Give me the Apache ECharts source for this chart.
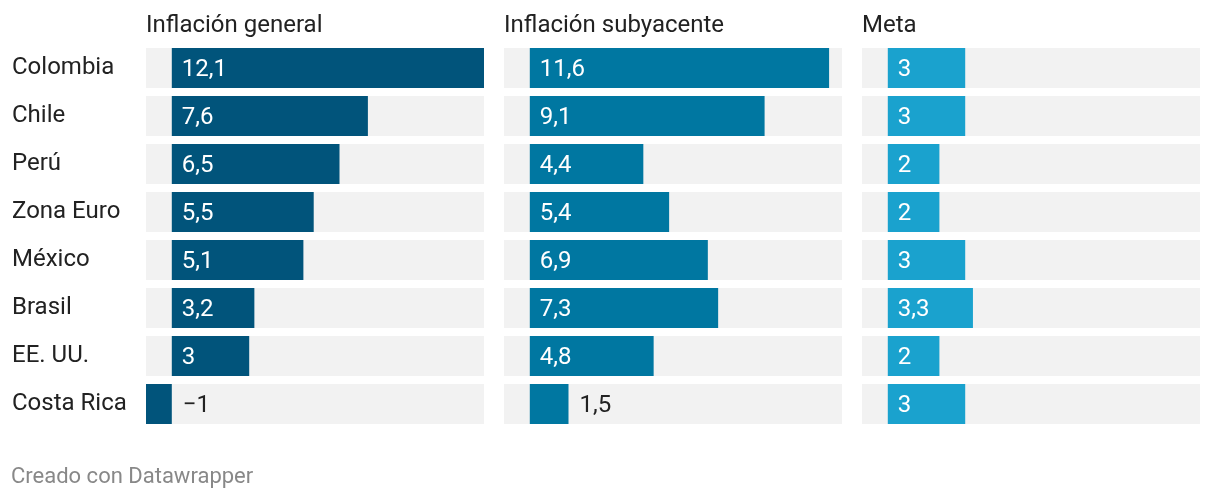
<!DOCTYPE html>
<html><head><meta charset="utf-8">
<script src="https://cdn.jsdelivr.net/npm/echarts@6/dist/echarts.min.js"></script>
<style>html,body{margin:0;padding:0;background:#fff}#c{width:1220px;height:500px}</style>
</head><body><div id="c"></div>
<script>
var categories = ['Colombia','Chile','Perú','Zona Euro','México','Brasil','EE. UU.','Costa Rica'];
var general = [12.1, 7.6, 6.5, 5.5, 5.1, 3.2, 3, -1];
var subyacente = [11.6, 9.1, 4.4, 5.4, 6.9, 7.3, 4.8, 1.5];
var meta = [3, 3, 2, 2, 3, 3.3, 2, 3];
var panelTitles = ['Inflación general', 'Inflación subyacente', 'Meta'];
var colors = ['#01547b', '#0077a1', '#1aa2ce'];
var FONT = 'Roboto';

var chart = echarts.init(document.getElementById('c'), null, {renderer:'canvas'});
var lefts = [146, 504, 862];
var W = 338;
function fmt(v){ return String(v).replace('.', ',').replace('-', '\u2212'); }
function makeData(arr){
  return arr.map(function(v){
    var outside = v < 2;
    return {value: v, label: outside ?
      {position: 'right', distance: 11, color: '#222'} :
      {position: 'insideLeft', distance: 10, color: '#fff'}};
  });
}
var grids = [], xAxes = [], yAxes = [], series = [], titles = [];
[general, subyacente, meta].forEach(function(arr, i){
  grids.push({left: lefts[i], width: W, top: 44, height: 384});
  xAxes.push({type:'value', gridIndex:i, min:-1, max:12.1, show:false});
  yAxes.push({type:'category', gridIndex:i, data:categories, inverse:true,
    axisLine:{show:false}, axisTick:{show:false}, splitLine:{show:false},
    axisLabel:{show: i===0, align:'left', margin: 134, padding:[4,0,0,0], fontFamily:FONT, fontSize:24, color:'#222'}});
  series.push({type:'bar', xAxisIndex:i, yAxisIndex:i, data:makeData(arr), barWidth:40,
    itemStyle:{color:colors[i]}, showBackground:true, backgroundStyle:{color:'#f2f2f2'},
    animation:false,
    label:{show:true, offset:[0,2], fontFamily:FONT, fontSize:24, formatter:function(p){return fmt(p.value);}}});
  titles.push({text: panelTitles[i], left: lefts[i], top: 14, padding:0,
    textStyle:{fontFamily:FONT, fontSize:24, fontWeight:'normal', color:'#222'}});
});
titles.push({text:'Creado con Datawrapper', left: 11, top: 466, padding:0,
  textStyle:{fontFamily:FONT, fontSize:22, fontWeight:'normal', color:'#888'}});
chart.setOption({animation:false, title:titles, grid:grids, xAxis:xAxes, yAxis:yAxes, series:series});
</script></body></html>
